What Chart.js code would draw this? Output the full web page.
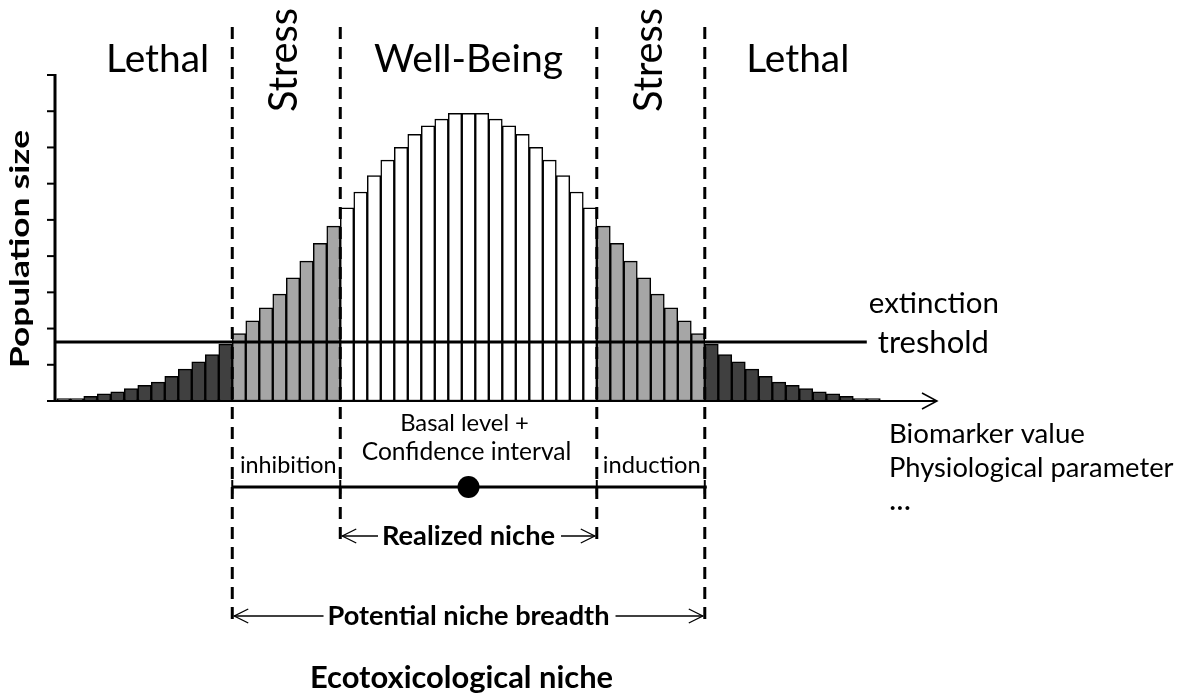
<!DOCTYPE html>
<html>
<head>
<meta charset="utf-8">
<script src="https://cdn.jsdelivr.net/npm/chart.js@4.4.0/dist/chart.umd.min.js"></script>
<style>
    html, body { margin: 0; padding: 0; background: #fff; }
</style>
</head>
<body>
<canvas id="nicheChart" width="1189" height="693"></canvas>
<script>
// population size per bin (y units = axis ticks)
const lethalLeft = [0.07, 0.07, 0.13, 0.2, 0.25, 0.34, 0.43, 0.52, 0.68, 0.88, 1.08, 1.28, 1.57];
const stressLeft = [1.86, 2.21, 2.57, 2.95, 3.4, 3.86, 4.35, 4.83];
const wellBeing = [5.33, 5.77, 6.22, 6.65, 7.0, 7.36, 7.6, 7.78, 7.94, 7.94, 7.94, 7.78, 7.6, 7.36, 7.0, 6.65, 6.22, 5.77, 5.33];
const stressRight = [4.83, 4.35, 3.86, 3.4, 2.95, 2.57, 2.21, 1.86];
const lethalRight = [1.57, 1.28, 1.08, 0.88, 0.68, 0.52, 0.43, 0.34, 0.25, 0.2, 0.13, 0.07, 0.07];

const zoneNames = ['Lethal', 'Stress', 'Well-Being', 'Stress', 'Lethal'];
const yTicks = [0, 1, 2, 3, 4, 5, 6, 7, 8, 9];
const extinctionThreshold = 1.63;

const zoneColors = ['#404040', '#a6a6a6', '#ffffff', '#a6a6a6', '#404040'];
const zones = [lethalLeft, stressLeft, wellBeing, stressRight, lethalRight];

const points = [];
const colors = [];
const bounds = [];   // bin edges between zones
zones.forEach((zone, z) => {
    zone.forEach(v => {
        points.push({ x: points.length + 0.5, y: v });
        colors.push(zoneColors[z]);
    });
    if (z < zones.length - 1) bounds.push(points.length);
});

const FONT = 'Lato, "Open Sans", sans-serif';

// draw a text fitted to a given width
function fitText(ctx, text, x, y, width, opts = {}) {
    const weight = opts.bold ? 'bold ' : '';
    ctx.font = weight + '40px ' + FONT;
    let size = 40 * width / ctx.measureText(text).width;
    if (opts.maxSize && size > opts.maxSize) size = opts.maxSize;
    ctx.save();
    ctx.font = weight + size.toFixed(1) + 'px ' + FONT;
    ctx.fillStyle = '#000';
    ctx.textAlign = opts.align || 'center';
    ctx.textBaseline = 'alphabetic';
    ctx.translate(x, y);
    if (opts.rotate) ctx.rotate(-Math.PI / 2);
    if (opts.stretch) {
        const w = ctx.measureText(text).width;
        ctx.scale(opts.stretch / w, 1);
    }
    ctx.fillText(text, 0, 0);
    ctx.restore();
}

function line(ctx, x1, y1, x2, y2) {
    ctx.beginPath();
    ctx.moveTo(x1, y1);
    ctx.lineTo(x2, y2);
    ctx.stroke();
}

function chevron(ctx, tipX, y, dir, len, half) {
    ctx.beginPath();
    ctx.moveTo(tipX - dir * len, y - half);
    ctx.lineTo(tipX, y);
    ctx.lineTo(tipX - dir * len, y + half);
    ctx.stroke();
}

// double arrow with the label cut into it
function spanArrow(ctx, x1, x2, y, text, width, baseline) {
    const cx = (x1 + x2) / 2;
    ctx.lineWidth = 1.3;
    line(ctx, x1 + 2, y, cx - width / 2 - 4, y);
    line(ctx, cx + width / 2 + 6, y, x2 - 2, y);
    chevron(ctx, x1 + 2, y, -1, 14, 7);
    chevron(ctx, x2 - 2, y, 1, 14, 7);
    fitText(ctx, text, cx, baseline, width, { bold: true });
}

const decorPlugin = {
    id: 'nicheDecor',
    afterDatasetsDraw(chart) {
        const ctx = chart.ctx;
        const xs = chart.scales.x;
        const ys = chart.scales.y;
        const area = chart.chartArea;
        const y0 = ys.getPixelForValue(0);
        ctx.save();
        ctx.strokeStyle = '#000';
        ctx.lineCap = 'butt';

        // y axis with ticks
        ctx.lineWidth = 3;
        line(ctx, area.left, ys.getPixelForValue(yTicks[yTicks.length - 1]) - 1, area.left, y0 + 1);
        ctx.lineWidth = 2;
        yTicks.forEach(t => {
            const py = ys.getPixelForValue(t);
            line(ctx, area.left - 8, py, area.left, py);
        });

        // x axis with arrow
        ctx.lineWidth = 2;
        line(ctx, area.left, y0, area.right, y0);
        ctx.lineWidth = 1.5;
        chevron(ctx, area.right, y0, 1, 15, 8);

        // extinction threshold
        const ty = ys.getPixelForValue(extinctionThreshold);
        const tEnd = xs.getPixelForValue(60);
        ctx.lineWidth = 3;
        line(ctx, area.left, ty, tEnd, ty);
        fitText(ctx, 'extinction', tEnd + 2, ty - 29, 130, { align: 'left' });
        fitText(ctx, 'treshold', tEnd + 11, ty + 11, 111, { align: 'left' });

        // zone boundaries (dashed)
        ctx.lineWidth = 3;
        ctx.setLineDash([12, 8]);
        bounds.forEach((b, i) => {
            const px = xs.getPixelForValue(b);
            const outer = (i === 0 || i === bounds.length - 1);
            line(ctx, px, 27, px, outer ? 622 : 542);
        });
        ctx.setLineDash([]);

        // zone titles
        const bx = bounds.map(b => xs.getPixelForValue(b));
        fitText(ctx, zoneNames[0], (area.left + bx[0]) / 2 + 14, 72, 103);
        fitText(ctx, zoneNames[1], (bx[0] + bx[1]) / 2 + 11, 60, 104, { rotate: true });
        fitText(ctx, zoneNames[2], (bx[1] + bx[2]) / 2, 72, 189);
        fitText(ctx, zoneNames[3], (bx[2] + bx[3]) / 2 + 11, 60, 104, { rotate: true });
        fitText(ctx, zoneNames[4], bx[3] + 93, 72, 103);

        // y title
        fitText(ctx, 'Population size', 29, 249, 238, { bold: true, rotate: true, maxSize: 26, stretch: 238 });

        // x axis caption
        fitText(ctx, 'Biomarker value', 889, 443, 196, { align: 'left' });
        fitText(ctx, 'Physiological parameter', 889, 477, 284, { align: 'left' });
        fitText(ctx, '...', 889, 510, 22, { align: 'left' });

        // response segment
        const segY = 487;
        ctx.lineWidth = 3;
        line(ctx, bx[0], segY, bx[3] + 2, segY);
        ctx.lineWidth = 2;
        bx.forEach(px => line(ctx, px, segY - 7, px, segY + 7));
        ctx.beginPath();
        ctx.arc(xs.getPixelForValue(points.length / 2), segY, 11, 0, Math.PI * 2);
        ctx.fillStyle = '#000';
        ctx.fill();
        fitText(ctx, 'inhibition', (bx[0] + bx[1]) / 2 + 2, 473, 97);
        fitText(ctx, 'induction', (bx[2] + bx[3]) / 2 + 1, 473, 98);
        fitText(ctx, 'Basal level +', (bx[1] + bx[2]) / 2 - 4, 431, 129);
        fitText(ctx, 'Confidence interval', (bx[1] + bx[2]) / 2 - 2, 460, 210);

        // niches
        ctx.strokeStyle = '#000';
        spanArrow(ctx, bx[1], bx[2], 536, 'Realized niche', 173, 545);
        spanArrow(ctx, bx[0], bx[3], 616, 'Potential niche breadth', 282, 625);
        fitText(ctx, 'Ecotoxicological niche', (bx[0] + bx[3]) / 2 - 7, 688, 303, { bold: true });

        ctx.restore();
    }
};

new Chart(document.getElementById('nicheChart'), {
    type: 'bar',
    data: {
        datasets: [{
            data: points,
            backgroundColor: colors,
            borderColor: '#000',
            borderWidth: 1.5,
            borderSkipped: false,
            barPercentage: 1,
            categoryPercentage: 1
        }]
    },
    options: {
        responsive: false,
        animation: false,
        devicePixelRatio: 1,
        layout: { padding: { left: 55, right: 252, top: 75, bottom: 292 } },
        scales: {
            x: { type: 'linear', min: -0.13, max: 65.2, offset: false, display: false },
            y: { min: 0, max: yTicks[yTicks.length - 1], display: false }
        },
        plugins: {
            legend: { display: false },
            tooltip: { enabled: false }
        }
    },
    plugins: [decorPlugin]
});
</script>
</body>
</html>
